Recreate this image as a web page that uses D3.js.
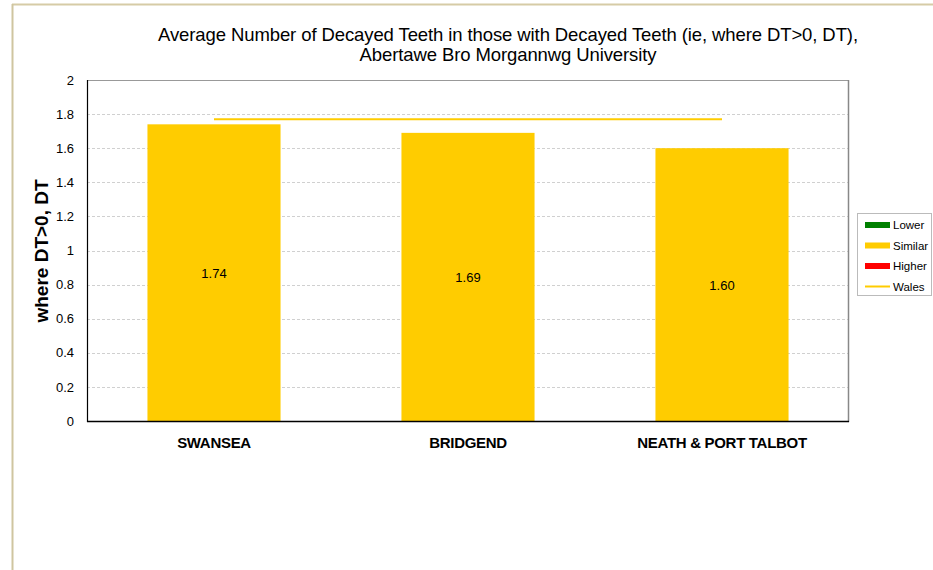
<!DOCTYPE html>
<html>
<head>
<meta charset="utf-8">
<script src="https://cdn.jsdelivr.net/npm/d3@7"></script>
<style>
  body { margin: 0; background: #fff; }
  svg { display: block; font-family: "Liberation Sans", Arial, sans-serif; }
</style>
</head>
<body>
<svg id="chart" width="933" height="570"></svg>
<script>
// Health board areas and their average decayed teeth (DT>0)
const areas = ["SWANSEA", "BRIDGEND", "NEATH & PORT TALBOT"];
const dtValues = [1.74, 1.69, 1.60];
const walesAverage = 1.77;
const yTicks = [0, 0.2, 0.4, 0.6, 0.8, 1, 1.2, 1.4, 1.6, 1.8, 2];
const legendItems = [
  { label: "Lower", color: "#008000", kind: "bar" },
  { label: "Similar", color: "#FFCC00", kind: "bar" },
  { label: "Higher", color: "#FF0000", kind: "bar" },
  { label: "Wales", color: "#FFCC00", kind: "line" }
];
const titleLines = [
  "Average Number of Decayed Teeth in those with Decayed Teeth (ie, where DT>0, DT),",
  "Abertawe Bro Morgannwg University"
];

const svg = d3.select("#chart");
const plot = { left: 87, right: 849, top: 80, bottom: 421 };

// outer frame
svg.append("line").attr("x1", 12).attr("x2", 933).attr("y1", 4.5).attr("y2", 4.5)
  .attr("stroke", "#d6cba6").attr("stroke-width", 2);
svg.append("line").attr("x1", 12.5).attr("x2", 12.5).attr("y1", 4).attr("y2", 570)
  .attr("stroke", "#cfc5a0").attr("stroke-width", 2);

const x = d3.scaleBand().domain(areas).range([plot.left, plot.right]).paddingInner(0.476).paddingOuter(0.238);
const y = d3.scaleLinear().domain([0, 2]).range([plot.bottom, plot.top]);

// gridlines
svg.append("g").selectAll("line").data(yTicks.filter(t => t > 0 && t < 2)).join("line")
  .attr("x1", plot.left).attr("x2", plot.right)
  .attr("y1", d => Math.round(y(d)) + 0.5).attr("y2", d => Math.round(y(d)) + 0.5)
  .attr("stroke", "#d0d0d0").attr("stroke-dasharray", "3,2").attr("stroke-width", 1);

// plot border: top/right grey, left/bottom dark
svg.append("line").attr("x1", plot.left).attr("x2", plot.right).attr("y1", plot.top + 0.5).attr("y2", plot.top + 0.5)
  .attr("stroke", "#999").attr("stroke-width", 1);
svg.append("line").attr("x1", plot.right - 0.5).attr("x2", plot.right - 0.5).attr("y1", plot.top).attr("y2", plot.bottom + 1)
  .attr("stroke", "#888").attr("stroke-width", 1.5);

// bars
svg.append("g").selectAll("rect").data(areas).join("rect")
  .attr("x", d => x(d)).attr("width", x.bandwidth())
  .attr("y", (d, i) => y(dtValues[i])).attr("height", (d, i) => y(0) - y(dtValues[i]))
  .attr("fill", "#FFCC00");

// value labels at bar mid-height
svg.append("g").selectAll("text").data(areas).join("text")
  .attr("x", d => x(d) + x.bandwidth() / 2)
  .attr("y", (d, i) => (y(dtValues[i]) + y(0)) / 2 + 5)
  .attr("text-anchor", "middle").attr("font-size", 13).attr("fill", "#000")
  .text((d, i) => dtValues[i].toFixed(2));

// Wales average line across band centres
svg.append("line")
  .attr("x1", x(areas[0]) + x.bandwidth() / 2)
  .attr("x2", x(areas[areas.length - 1]) + x.bandwidth() / 2)
  .attr("y1", y(walesAverage)).attr("y2", y(walesAverage))
  .attr("stroke", "#FFCC00").attr("stroke-width", 2);

// axes lines
svg.append("line").attr("x1", plot.left + 0.5).attr("x2", plot.left + 0.5).attr("y1", plot.top).attr("y2", plot.bottom + 1)
  .attr("stroke", "#000").attr("stroke-width", 1.2);
svg.append("line").attr("x1", plot.left).attr("x2", plot.right).attr("y1", plot.bottom + 0.5).attr("y2", plot.bottom + 0.5)
  .attr("stroke", "#000").attr("stroke-width", 1.5);

// y tick labels
const yAxis = d3.axisLeft(y).tickValues(yTicks).tickSize(0).tickPadding(13).tickFormat(d3.format("~g"));
const yg = svg.append("g").attr("transform", `translate(${plot.left},0)`).call(yAxis);
yg.select(".domain").remove();
yg.selectAll("text").attr("font-size", 13).attr("font-family", "Liberation Sans, Arial, sans-serif").attr("fill", "#000");

// x category labels
const xAxis = d3.axisBottom(x).tickSize(0).tickPadding(16);
const xg = svg.append("g").attr("transform", `translate(0,${plot.bottom})`).call(xAxis);
xg.select(".domain").remove();
xg.selectAll("text").attr("font-size", 15).attr("font-weight", "bold")
  .attr("font-family", "Liberation Sans, Arial, sans-serif").attr("fill", "#000").attr("letter-spacing", -0.3);

// y axis title
svg.append("text").attr("transform", "translate(48,251) rotate(-90)")
  .attr("text-anchor", "middle").attr("font-size", 19).attr("font-weight", "bold").text("where DT>0, DT");

// chart title
svg.append("g").selectAll("text").data(titleLines).join("text")
  .attr("x", 508).attr("y", (d, i) => 41 + i * 20)
  .attr("text-anchor", "middle").attr("font-size", 18.5).attr("letter-spacing", -0.1).attr("fill", "#000")
  .text(d => d);

// legend
const lg = svg.append("g");
lg.append("rect").attr("x", 857.5).attr("y", 213.5).attr("width", 74).attr("height", 82)
  .attr("fill", "#fff").attr("stroke", "#bbb");
legendItems.forEach((item, i) => {
  const cy = 225 + i * 20.5;
  if (item.kind === "bar") {
    lg.append("rect").attr("x", 865).attr("y", cy - 3).attr("width", 25).attr("height", 6).attr("fill", item.color);
  } else {
    lg.append("line").attr("x1", 865).attr("x2", 890).attr("y1", cy).attr("y2", cy)
      .attr("stroke", item.color).attr("stroke-width", 2);
  }
  lg.append("text").attr("x", 893).attr("y", cy + 4).attr("font-size", 11.5).attr("fill", "#000").text(item.label);
});
</script>
</body>
</html>
